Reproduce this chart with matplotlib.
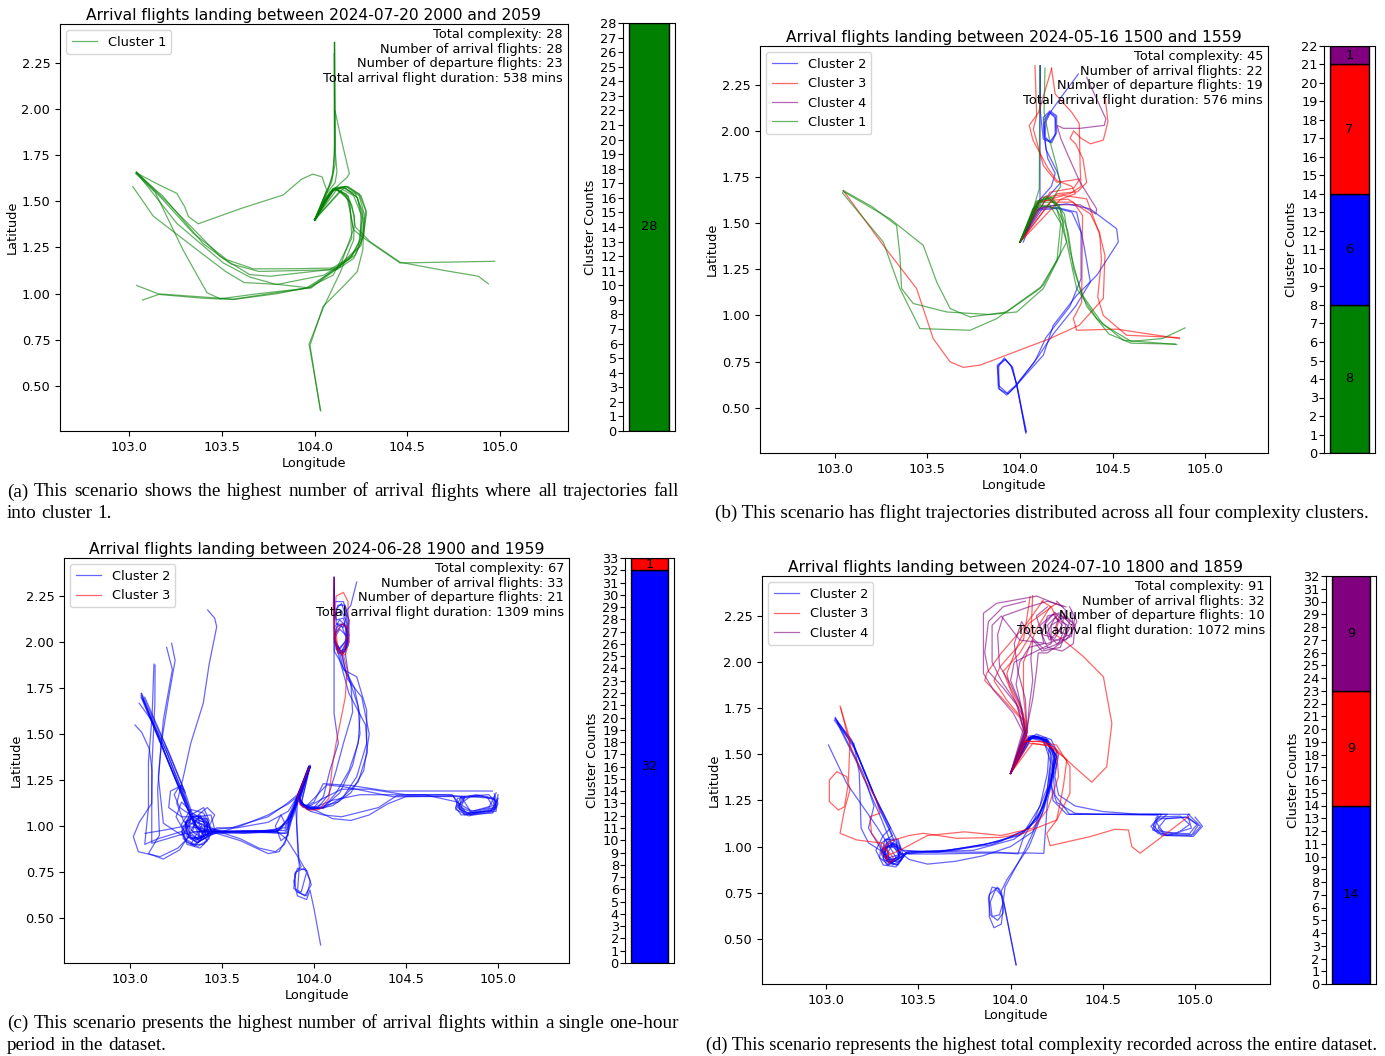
import matplotlib
matplotlib.use('Agg')
import matplotlib.pyplot as plt

# ---------------- data (lon, lat) ----------------
CLUSTER_COLORS = {1: 'green', 2: 'blue', 3: 'red', 4: 'purple'}

# (a) 2024-07-20 2000-2059
A_CLUSTER1 = [
    [(104.106, 2.36), (104.106, 1.75), (104.095, 1.63), (104.07, 1.56), (104.0, 1.40)],
    [(104.108, 2.36), (104.11, 1.70), (104.09, 1.60), (104.06, 1.54), (104.005, 1.395)],
    [(104.105, 2.30), (104.108, 1.80), (104.10, 1.66), (104.08, 1.59), (104.04, 1.50), (104.0, 1.40)],
    [(104.11, 1.99), (104.14, 1.85), (104.187, 1.65), (104.175, 1.63), (104.12, 1.58), (104.06, 1.51), (104.0, 1.40)],
    [(104.107, 2.36), (104.112, 1.76), (104.12, 1.66), (104.11, 1.60), (104.07, 1.55), (104.01, 1.41)],
    [(103.038, 1.654), (103.16, 1.59), (103.257, 1.543), (103.30, 1.47), (103.32, 1.417), (103.373, 1.378),
     (103.60, 1.46), (103.83, 1.534), (103.93, 1.62), (103.99, 1.647), (104.04, 1.632), (104.065, 1.56),
     (104.03, 1.47), (104.0, 1.40)],
    [(103.04, 1.655), (103.167, 1.525), (103.346, 1.327), (103.526, 1.184), (103.67, 1.134), (103.9, 1.135),
     (104.12, 1.139), (104.22, 1.21), (104.265, 1.32), (104.275, 1.45), (104.24, 1.54), (104.17, 1.58),
     (104.11, 1.57), (104.06, 1.52), (104.0, 1.40)],
    [(103.036, 1.65), (103.14, 1.55), (103.29, 1.238), (103.42, 1.005), (103.49, 0.972), (103.70, 1.0),
     (103.975, 1.031), (104.13, 1.15), (104.235, 1.25), (104.255, 1.40), (104.23, 1.52), (104.16, 1.575),
     (104.10, 1.56), (104.05, 1.49), (104.0, 1.40)],
    [(103.04, 1.66), (103.20, 1.50), (103.49, 1.202), (103.65, 1.103), (103.76, 1.094), (104.08, 1.13),
     (104.20, 1.20), (104.25, 1.30), (104.26, 1.44), (104.22, 1.54), (104.15, 1.575), (104.09, 1.56), (104.0, 1.40)],
    [(103.02, 1.58), (103.13, 1.42), (103.35, 1.25), (103.52, 1.12), (103.62, 1.06), (103.80, 1.05),
     (103.98, 1.03), (104.14, 1.15), (104.25, 1.26), (104.27, 1.42), (104.24, 1.53), (104.17, 1.58),
     (104.10, 1.565), (104.0, 1.40)],
    [(103.04, 1.656), (103.257, 1.381), (103.508, 1.166), (103.65, 1.09), (103.795, 1.049), (104.05, 1.10),
     (104.19, 1.19), (104.245, 1.29), (104.25, 1.43), (104.21, 1.53), (104.14, 1.57), (104.08, 1.55), (104.0, 1.40)],
    [(103.04, 1.652), (103.18, 1.53), (103.40, 1.27), (103.55, 1.16), (103.70, 1.12), (104.12, 1.13),
     (104.21, 1.19), (104.26, 1.30), (104.28, 1.44), (104.25, 1.53), (104.18, 1.58), (104.11, 1.575), (104.0, 1.40)],
    [(103.041, 1.044), (103.167, 0.995), (103.40, 0.975), (103.562, 0.968), (103.80, 1.00), (103.957, 1.031),
     (104.137, 1.146), (104.208, 1.345), (104.18, 1.525), (104.10, 1.57), (104.0, 1.40)],
    [(103.072, 0.965), (103.167, 0.998), (103.562, 0.97), (103.96, 1.03), (104.10, 1.10), (104.20, 1.30),
     (104.19, 1.50), (104.12, 1.565), (104.0, 1.40)],
    [(104.033, 0.364), (103.97, 0.726), (104.047, 0.924), (104.14, 1.12), (104.21, 1.29), (104.215, 1.42),
     (104.18, 1.53), (104.11, 1.57), (104.0, 1.40)],
    [(104.03, 0.37), (103.975, 0.72), (104.045, 0.93), (104.155, 1.04), (104.23, 1.12), (104.26, 1.24),
     (104.265, 1.40), (104.23, 1.52), (104.16, 1.575), (104.0, 1.40)],
    [(104.97, 1.175), (104.46, 1.166), (104.28, 1.29), (104.21, 1.345), (104.19, 1.45), (104.17, 1.54),
     (104.10, 1.57), (104.0, 1.40)],
    [(104.936, 1.053), (104.882, 1.094), (104.70, 1.125), (104.46, 1.17), (104.30, 1.28), (104.22, 1.36),
     (104.20, 1.48), (104.14, 1.56), (104.0, 1.40)],
]

# (b) 2024-05-16 1500-1559
B_CLUSTER1 = [
    [(103.045, 1.677), (103.20, 1.59), (103.333, 1.488), (103.351, 1.326), (103.36, 1.146), (103.423, 1.065),
     (103.604, 1.019), (103.838, 1.005), (103.982, 1.019), (104.126, 1.146), (104.216, 1.326), (104.234, 1.506),
     (104.18, 1.614), (104.09, 1.614), (104.0, 1.398)],
    [(103.045, 1.672), (103.297, 1.524), (103.477, 1.380), (103.55, 1.181), (103.622, 1.038), (103.73, 0.992),
     (103.928, 1.019), (104.108, 1.146), (104.20, 1.30), (104.22, 1.50), (104.16, 1.60), (104.07, 1.58), (104.0, 1.398)],
    [(103.04, 1.665), (103.261, 1.398), (103.351, 1.146), (103.459, 0.929), (103.73, 0.92), (103.874, 0.983),
     (104.126, 1.164), (104.252, 1.398), (104.198, 1.578), (104.10, 1.60), (104.0, 1.398)],
    [(104.108, 2.353), (104.104, 1.686), (104.06, 1.54), (104.0, 1.398)],
    [(104.135, 2.34), (104.13, 2.1), (104.16, 1.95), (104.20, 1.80), (104.22, 1.70), (104.18, 1.64),
     (104.10, 1.62), (104.0, 1.398)],
    [(104.847, 0.843), (104.558, 0.866), (104.415, 0.983), (104.306, 1.146), (104.252, 1.398), (104.216, 1.578),
     (104.144, 1.65), (104.072, 1.578), (104.0, 1.398)],
    [(104.892, 0.933), (104.77, 0.875), (104.60, 0.86), (104.45, 0.95), (104.33, 1.12), (104.27, 1.35),
     (104.24, 1.55), (104.17, 1.64), (104.09, 1.62), (104.0, 1.398)],
    [(104.84, 0.845), (104.60, 0.85), (104.48, 0.90), (104.36, 1.05), (104.29, 1.25), (104.26, 1.45),
     (104.21, 1.60), (104.13, 1.64), (104.0, 1.398)],
]
B_CLUSTER2 = [
    [(104.108, 2.353), (104.108, 1.632), (104.018, 1.398)],
    [(104.11, 2.353), (104.11, 2.10), (104.126, 1.956), (104.171, 1.935), (104.198, 1.992), (104.198, 2.082),
     (104.162, 2.109), (104.126, 2.073), (104.13, 1.96), (104.17, 1.94), (104.195, 1.99), (104.19, 2.08),
     (104.16, 2.10), (104.13, 2.06), (104.13, 1.97), (104.15, 1.85), (104.19, 1.77), (104.17, 1.70),
     (104.10, 1.62), (104.0, 1.398)],
    [(104.315, 2.308), (104.22, 2.18), (104.17, 2.11), (104.14, 2.05), (104.135, 1.97), (104.16, 1.94),
     (104.19, 1.98), (104.19, 2.07), (104.16, 2.10), (104.13, 2.04), (104.14, 1.90), (104.20, 1.78),
     (104.22, 1.72), (104.14, 1.63), (104.0, 1.398)],
    [(104.032, 0.362), (103.982, 0.623), (103.955, 0.722), (103.919, 0.764), (103.877, 0.731), (103.883, 0.605),
     (103.928, 0.569), (103.973, 0.614), (104.126, 0.785), (104.18, 0.947), (104.306, 1.109), (104.415, 1.218),
     (104.531, 1.398), (104.522, 1.47), (104.378, 1.578), (104.252, 1.605), (104.126, 1.587), (104.0, 1.398)],
    [(104.03, 0.37), (103.985, 0.62), (103.95, 0.73), (103.915, 0.77), (103.88, 0.72), (103.89, 0.60),
     (103.935, 0.575), (103.98, 0.62), (104.10, 0.78), (104.18, 0.90), (104.30, 1.05), (104.38, 1.181),
     (104.342, 1.398), (104.306, 1.56), (104.20, 1.585), (104.10, 1.58), (104.0, 1.398)],
    [(104.035, 0.37), (103.98, 0.63), (103.96, 0.72), (103.92, 0.76), (103.885, 0.73), (103.885, 0.62),
     (103.93, 0.58), (103.975, 0.62), (104.08, 0.75), (104.14, 0.88), (104.27, 1.05), (104.33, 1.20),
     (104.33, 1.45), (104.28, 1.56), (104.20, 1.58), (104.08, 1.57), (104.0, 1.398)],
]
B_CLUSTER3 = [
    [(103.045, 1.677), (103.261, 1.38), (103.441, 1.146), (103.531, 0.875), (103.622, 0.749), (103.694, 0.719),
     (103.784, 0.731), (104.162, 0.875), (104.32, 0.947), (104.45, 1.092), (104.459, 1.326), (104.432, 1.434),
     (104.36, 1.632), (104.234, 1.65), (104.10, 1.61), (104.0, 1.398)],
    [(104.861, 0.875), (104.522, 0.926), (104.306, 0.92), (104.288, 0.983), (104.333, 1.07), (104.338, 1.542),
     (104.288, 1.614), (104.162, 1.614), (104.0, 1.398)],
    [(104.86, 0.88), (104.576, 0.893), (104.45, 1.0), (104.42, 1.10), (104.44, 1.30), (104.43, 1.45),
     (104.38, 1.55), (104.26, 1.63), (104.10, 1.62), (104.0, 1.398)],
    [(104.081, 2.353), (104.09, 2.082), (104.072, 2.01), (104.126, 1.812), (104.198, 1.722), (104.27, 1.731),
     (104.324, 1.74), (104.29, 1.69), (104.162, 1.668), (104.0, 1.398)],
    [(104.171, 2.338), (104.13, 2.2), (104.10, 2.10), (104.05, 2.03), (104.07, 1.95), (104.15, 1.80),
     (104.20, 1.73), (104.28, 1.70), (104.30, 1.66), (104.22, 1.63), (104.0, 1.398)],
    [(104.46, 2.18), (104.475, 2.05), (104.45, 1.95), (104.38, 1.93), (104.33, 1.96), (104.29, 2.0),
     (104.27, 1.96), (104.30, 1.93), (104.34, 1.85), (104.36, 1.72), (104.31, 1.67), (104.20, 1.66), (104.0, 1.398)],
    [(104.17, 2.34), (104.19, 2.20), (104.28, 2.10), (104.32, 2.04), (104.325, 1.80), (104.33, 1.70),
     (104.27, 1.66), (104.12, 1.64), (104.0, 1.398)],
]
B_CLUSTER4 = [
    [(104.36, 2.29), (104.464, 2.065), (104.455, 2.03), (104.324, 2.014), (104.234, 2.014), (104.20, 2.03),
     (104.22, 1.96), (104.252, 1.884), (104.324, 1.722), (104.414, 1.578), (104.41, 1.55), (104.324, 1.60),
     (104.20, 1.60), (104.10, 1.58), (104.0, 1.398)],
]

# (c) 2024-06-28 1900-1959
C_CLUSTER2 = [
    [(103.063, 1.721), (103.20, 1.42), (103.30, 1.18), (103.362, 0.996), (103.40, 0.95), (103.43, 0.96),
     (103.41, 1.03), (103.35, 1.06), (103.30, 1.02), (103.31, 0.94), (103.37, 0.91), (103.43, 0.95),
     (103.47, 0.97), (103.60, 0.965), (103.80, 0.97), (103.87, 1.05), (103.915, 1.16), (103.978, 1.322)],
    [(103.05, 1.667), (103.12, 1.57), (103.20, 1.40), (103.30, 1.15), (103.36, 1.0), (103.41, 0.96),
     (103.38, 0.92), (103.32, 0.94), (103.30, 1.01), (103.34, 1.05), (103.40, 1.02), (103.45, 0.97),
     (103.55, 0.97), (103.78, 0.975), (103.86, 1.02), (103.905, 1.15), (103.972, 1.325)],
    [(103.06, 1.72), (103.35, 1.00), (103.39, 0.93), (103.35, 0.89), (103.29, 0.93), (103.28, 1.01),
     (103.33, 1.09), (103.40, 1.07), (103.44, 0.99), (103.50, 0.97), (103.70, 0.97), (103.84, 0.99),
     (103.90, 1.12), (103.98, 1.33)],
    [(103.027, 1.549), (103.063, 1.51), (103.105, 1.419), (103.12, 1.30), (103.118, 1.123), (103.05, 1.02),
     (103.018, 0.942), (103.045, 0.86), (103.163, 0.833), (103.26, 0.88), (103.33, 0.95), (103.30, 1.02),
     (103.34, 1.07), (103.40, 1.03), (103.41, 0.95), (103.35, 0.92), (103.45, 0.97), (103.62, 0.96),
     (103.80, 0.97), (103.88, 1.06), (103.92, 1.17), (103.975, 1.32)],
    [(103.136, 1.875), (103.135, 1.67), (103.118, 1.304), (103.118, 0.906), (103.20, 0.93), (103.30, 0.96),
     (103.33, 1.04), (103.38, 1.06), (103.41, 1.00), (103.38, 0.93), (103.32, 0.94), (103.30, 1.00),
     (103.45, 0.975), (103.65, 0.97), (103.82, 0.98), (103.89, 1.10), (103.97, 1.32)],
    [(103.199, 1.971), (103.23, 1.85), (103.181, 1.576), (103.154, 1.268), (103.181, 1.015), (103.28, 0.95),
     (103.32, 1.00), (103.38, 1.05), (103.42, 1.01), (103.39, 0.94), (103.33, 0.93), (103.47, 0.96),
     (103.60, 0.92), (103.75, 0.85), (103.81, 0.86), (103.85, 0.93), (103.88, 1.06), (103.915, 1.16),
     (103.978, 1.32)],
    [(103.226, 1.993), (103.245, 1.90), (103.21, 1.70), (103.17, 1.45), (103.15, 1.20), (103.16, 0.95),
     (103.10, 0.85), (103.18, 0.82), (103.27, 0.87), (103.32, 0.95), (103.36, 1.03), (103.42, 1.02),
     (103.42, 0.94), (103.36, 0.91), (103.31, 0.96), (103.44, 0.98), (103.55, 0.99), (103.75, 1.05),
     (103.85, 1.12), (103.91, 1.17), (103.975, 1.32)],
    [(103.422, 2.174), (103.46, 2.13), (103.471, 2.083), (103.43, 1.88), (103.398, 1.667), (103.33, 1.45),
     (103.29, 1.268), (103.254, 1.123), (103.29, 1.03), (103.35, 0.96), (103.41, 0.93), (103.44, 0.98),
     (103.40, 1.05), (103.33, 1.05), (103.32, 0.97), (103.38, 0.92), (103.46, 0.96), (103.62, 0.975),
     (103.84, 0.975), (103.90, 1.10), (103.97, 1.32)],
    [(103.082, 0.96), (103.20, 0.98), (103.30, 1.00), (103.33, 1.08), (103.28, 1.13), (103.25, 1.05),
     (103.30, 0.96), (103.38, 0.93), (103.44, 0.97), (103.42, 1.04), (103.36, 1.04), (103.34, 0.97),
     (103.50, 0.96), (103.70, 0.965), (103.85, 0.96), (103.88, 1.07), (103.92, 1.16), (103.978, 1.32)],
    [(103.13, 1.88), (103.12, 1.60), (103.10, 1.35), (103.10, 1.10), (103.08, 0.90), (103.15, 0.93),
     (103.28, 0.97), (103.31, 0.91), (103.37, 0.89), (103.43, 0.93), (103.42, 1.00), (103.36, 1.02),
     (103.48, 0.97), (103.60, 0.93), (103.70, 0.88), (103.79, 0.86), (103.84, 0.90), (103.87, 1.00),
     (103.91, 1.16), (103.975, 1.325)],
    [(103.06, 1.70), (103.25, 1.25), (103.32, 1.10), (103.28, 1.22), (103.22, 1.19), (103.21, 1.10),
     (103.28, 1.05), (103.35, 1.05), (103.44, 1.06), (103.46, 0.98), (103.40, 0.90), (103.33, 0.90),
     (103.37, 0.97), (103.50, 0.97), (103.60, 1.00), (103.75, 1.06), (103.86, 1.12), (103.91, 1.16),
     (103.98, 1.32)],
    [(103.08, 1.70), (103.22, 1.38), (103.30, 1.18), (103.27, 1.22), (103.24, 1.17), (103.27, 1.10),
     (103.33, 1.06), (103.40, 1.10), (103.43, 1.03), (103.40, 0.93), (103.35, 0.90), (103.30, 0.93),
     (103.29, 1.00), (103.33, 1.04), (103.39, 1.01), (103.37, 0.94), (103.44, 0.96), (103.47, 0.99),
     (103.58, 0.99), (103.75, 1.02), (103.86, 1.08), (103.91, 1.16), (103.975, 1.32)],
    [(103.06, 1.71), (103.30, 1.12), (103.36, 0.99), (103.43, 1.00), (103.46, 1.06), (103.42, 1.10),
     (103.37, 1.06), (103.38, 0.98), (103.42, 0.92), (103.38, 0.88), (103.31, 0.90), (103.28, 0.97),
     (103.32, 1.02), (103.39, 0.99), (103.43, 0.96), (103.52, 0.97), (103.70, 0.97), (103.84, 0.96),
     (103.89, 1.06), (103.92, 1.16), (103.978, 1.322)],
    [(103.07, 1.69), (103.33, 1.05), (103.38, 0.97), (103.47, 0.97), (103.65, 0.97), (103.80, 0.97),
     (103.84, 1.02), (103.82, 1.06), (103.79, 1.00), (103.82, 0.92), (103.86, 0.95), (103.86, 1.05),
     (103.90, 1.14), (103.972, 1.325)],
    [(104.109, 2.355), (104.109, 1.612), (104.132, 1.449), (104.087, 1.304), (104.051, 1.159), (103.996, 1.096),
     (103.933, 1.114), (103.915, 1.16), (103.978, 1.322)],
    [(104.232, 2.326), (104.20, 2.20), (104.17, 2.16), (104.19, 2.12), (104.19, 2.00), (104.16, 1.94),
     (104.12, 1.96), (104.11, 2.08), (104.14, 2.12), (104.18, 2.08), (104.185, 1.98), (104.15, 1.93),
     (104.13, 1.98), (104.16, 1.85), (104.232, 1.811), (104.286, 1.63), (104.286, 1.449), (104.232, 1.268),
     (104.16, 1.159), (104.051, 1.096), (103.96, 1.096), (103.92, 1.15), (103.978, 1.322)],
    [(104.109, 2.35), (104.109, 2.20), (104.12, 2.12), (104.16, 2.13), (104.18, 2.05), (104.17, 1.96),
     (104.13, 1.95), (104.11, 2.02), (104.13, 2.10), (104.17, 2.09), (104.18, 1.98), (104.15, 1.93),
     (104.17, 1.85), (104.22, 1.75), (104.25, 1.60), (104.24, 1.45), (104.19, 1.30), (104.12, 1.18),
     (104.05, 1.10), (103.97, 1.09), (103.92, 1.14), (103.975, 1.32)],
    [(104.11, 2.35), (104.11, 2.15), (104.15, 2.17), (104.18, 2.10), (104.17, 2.00), (104.13, 1.96),
     (104.11, 2.04), (104.15, 2.09), (104.18, 2.01), (104.15, 1.95), (104.18, 1.80), (104.26, 1.70),
     (104.30, 1.50), (104.27, 1.30), (104.20, 1.18), (104.10, 1.11), (104.0, 1.09), (103.93, 1.12),
     (103.975, 1.32)],
    [(104.11, 2.30), (104.11, 1.95), (104.14, 1.90), (104.20, 1.78), (104.21, 1.62), (104.16, 1.45),
     (104.12, 1.30), (104.08, 1.17), (104.02, 1.10), (103.95, 1.10), (103.915, 1.16), (103.978, 1.322)],
    [(104.12, 2.22), (104.16, 2.22), (104.18, 2.15), (104.16, 2.08), (104.12, 2.10), (104.12, 2.18),
     (104.15, 2.21), (104.18, 2.12), (104.18, 2.00), (104.15, 1.94), (104.12, 2.0), (104.14, 1.90),
     (104.19, 1.72), (104.28, 1.55), (104.29, 1.40), (104.24, 1.24), (104.13, 1.13), (104.02, 1.10),
     (103.93, 1.12), (103.978, 1.32)],
    [(104.11, 2.34), (104.11, 2.12), (104.13, 2.20), (104.17, 2.20), (104.19, 2.12), (104.18, 2.02),
     (104.14, 1.96), (104.11, 2.00), (104.12, 2.08), (104.16, 2.10), (104.19, 2.04), (104.17, 1.95),
     (104.13, 1.94), (104.11, 2.02), (104.14, 2.07), (104.18, 2.03), (104.17, 1.94), (104.19, 1.80),
     (104.24, 1.65), (104.25, 1.50), (104.21, 1.33), (104.14, 1.18), (104.05, 1.10), (103.96, 1.09),
     (103.915, 1.16), (103.978, 1.322)],
    [(104.98, 1.175), (105.0, 1.12), (104.97, 1.07), (104.80, 1.06), (104.77, 1.10), (104.80, 1.16),
     (104.95, 1.17), (104.99, 1.13), (104.96, 1.08), (104.82, 1.07), (104.78, 1.12), (104.757, 1.163),
     (104.431, 1.159), (104.16, 1.214), (104.069, 1.223), (104.00, 1.15), (103.95, 1.10), (103.915, 1.16),
     (103.978, 1.322)],
    [(105.0, 1.15), (104.98, 1.09), (104.85, 1.06), (104.79, 1.09), (104.80, 1.15), (104.90, 1.165),
     (104.99, 1.14), (104.97, 1.08), (104.83, 1.07), (104.78, 1.13), (104.60, 1.17), (104.40, 1.17),
     (104.25, 1.17), (104.10, 1.14), (104.0, 1.10), (103.93, 1.11), (103.915, 1.16), (103.978, 1.322)],
    [(104.99, 1.18), (104.95, 1.10), (104.82, 1.06), (104.78, 1.11), (104.85, 1.16), (104.97, 1.15),
     (104.98, 1.10), (104.85, 1.08), (104.80, 1.16), (104.50, 1.16), (104.40, 1.12), (104.30, 1.06),
     (104.20, 1.03), (104.10, 1.04), (104.02, 1.08), (103.94, 1.11), (103.91, 1.16), (103.975, 1.32)],
    [(104.97, 1.19), (104.80, 1.19), (104.60, 1.19), (104.40, 1.19), (104.20, 1.22), (104.05, 1.23),
     (104.0, 1.13), (103.94, 1.10), (103.915, 1.16), (103.978, 1.322)],
    [(104.98, 1.16), (104.99, 1.10), (104.85, 1.065), (104.78, 1.10), (104.82, 1.16), (104.70, 1.17),
     (104.45, 1.165), (104.35, 1.10), (104.15, 1.05), (104.05, 1.06), (103.98, 1.08), (103.92, 1.13),
     (103.978, 1.322)],
    [(105.0, 1.17), (104.99, 1.08), (104.84, 1.055), (104.77, 1.09), (104.78, 1.15), (104.88, 1.17),
     (104.98, 1.15), (104.99, 1.09), (104.87, 1.07), (104.80, 1.10), (104.82, 1.16), (104.94, 1.16),
     (104.97, 1.11), (104.86, 1.08), (104.79, 1.12), (104.75, 1.17), (104.50, 1.17), (104.30, 1.20),
     (104.15, 1.20), (104.05, 1.15), (103.96, 1.10), (103.92, 1.14), (103.978, 1.322)],
    [(104.036, 0.353), (104.0, 0.55), (103.978, 0.652), (103.96, 0.60), (103.91, 0.62), (103.89, 0.70),
     (103.91, 0.77), (103.96, 0.76), (103.985, 0.68), (103.95, 0.62), (103.90, 0.65), (103.895, 0.74),
     (103.93, 0.78), (103.915, 0.815), (103.905, 1.015), (103.91, 1.14), (103.978, 1.322)],
    [(103.07, 1.69), (103.20, 1.40), (103.33, 1.06), (103.37, 0.98), (103.45, 0.97), (103.62, 0.97),
     (103.80, 0.97), (103.85, 0.93), (103.92, 0.82), (103.96, 0.75), (103.93, 0.64), (103.89, 0.66),
     (103.90, 0.75), (103.95, 0.77), (103.98, 0.70), (103.96, 0.62), (103.91, 0.64), (103.92, 0.78),
     (103.91, 0.95), (103.90, 1.10), (103.972, 1.32)],
]
C_CLUSTER3 = [
    [(104.11, 2.35), (104.105, 2.20), (104.11, 2.02), (104.13, 1.94), (104.17, 1.93), (104.19, 2.00),
     (104.18, 2.08), (104.15, 2.10), (104.12, 2.05), (104.13, 1.96), (104.16, 1.94), (104.185, 2.05),
     (104.185, 2.22), (104.16, 2.27), (104.12, 2.25), (104.11, 2.10), (104.12, 1.98), (104.16, 1.93),
     (104.18, 1.85), (104.17, 1.70), (104.12, 1.45), (104.10, 1.33), (104.08, 1.15), (104.03, 1.09),
     (103.97, 1.085), (103.92, 1.12), (103.91, 1.16), (103.975, 1.32)],
]

# (d) 2024-07-10 1800-1859
D_CLUSTER2 = [
    [(103.049, 1.696), (103.139, 1.578), (103.256, 1.289), (103.401, 1.0), (103.39, 0.93), (103.33, 0.90),
     (103.30, 0.96), (103.32, 1.04), (103.38, 1.03), (103.40, 0.96), (103.35, 0.91), (103.31, 0.95),
     (103.34, 1.02), (103.42, 0.98), (103.50, 0.975), (103.618, 0.973), (103.889, 1.018), (104.069, 1.072),
     (104.16, 1.18), (104.21, 1.33), (104.25, 1.487), (104.196, 1.578), (104.124, 1.596), (104.07, 1.56),
     (104.0, 1.397)],
    [(103.05, 1.69), (103.14, 1.57), (103.26, 1.28), (103.36, 1.06), (103.30, 1.02), (103.29, 0.94),
     (103.34, 0.90), (103.40, 0.94), (103.38, 1.01), (103.32, 1.00), (103.33, 0.93), (103.39, 0.93),
     (103.44, 0.975), (103.60, 0.97), (103.85, 1.01), (104.05, 1.06), (104.15, 1.16), (104.22, 1.35),
     (104.24, 1.50), (104.19, 1.58), (104.12, 1.59), (104.06, 1.55), (104.0, 1.397)],
    [(103.045, 1.685), (103.15, 1.55), (103.27, 1.26), (103.35, 1.10), (103.31, 1.06), (103.27, 0.98),
     (103.31, 0.90), (103.38, 0.89), (103.42, 0.95), (103.39, 1.04), (103.33, 1.04), (103.32, 0.96),
     (103.37, 0.92), (103.45, 0.97), (103.70, 0.98), (103.95, 1.03), (104.10, 1.10), (104.18, 1.22),
     (104.23, 1.42), (104.21, 1.55), (104.14, 1.60), (104.08, 1.57), (104.0, 1.397)],
    [(103.013, 1.551), (103.112, 1.343), (103.275, 1.108), (103.35, 0.99), (103.38, 0.94), (103.34, 0.91),
     (103.30, 0.97), (103.36, 1.02), (103.40, 0.97), (103.45, 0.93), (103.55, 0.905), (103.70, 0.92),
     (103.85, 0.95), (104.0, 1.0), (104.12, 1.08), (104.19, 1.25), (104.22, 1.45), (104.18, 1.57),
     (104.10, 1.59), (104.0, 1.397)],
    [(103.06, 1.68), (103.20, 1.40), (103.26, 1.22), (103.23, 1.10), (103.29, 1.00), (103.34, 0.93),
     (103.40, 0.94), (103.37, 1.00), (103.31, 0.99), (103.33, 0.92), (103.39, 0.90), (103.43, 0.96),
     (103.55, 0.97), (103.80, 0.98), (104.02, 1.04), (104.14, 1.14), (104.21, 1.30), (104.24, 1.48),
     (104.20, 1.57), (104.13, 1.60), (104.07, 1.57), (104.0, 1.397)],
    [(103.15, 1.56), (103.18, 1.40), (103.19, 1.10), (103.23, 1.02), (103.31, 0.97), (103.35, 0.92),
     (103.40, 0.95), (103.38, 1.02), (103.33, 1.00), (103.34, 0.94), (103.41, 0.96), (103.50, 0.97),
     (103.75, 0.97), (103.93, 0.97), (104.04, 0.96), (104.07, 1.05), (104.13, 1.15), (104.20, 1.32),
     (104.22, 1.50), (104.17, 1.58), (104.10, 1.59), (104.0, 1.397)],
    [(104.964, 1.175), (105.02, 1.12), (104.98, 1.06), (104.80, 1.07), (104.76, 1.11), (104.80, 1.15),
     (104.95, 1.16), (105.03, 1.11), (104.99, 1.065), (104.82, 1.06), (104.77, 1.12), (104.82, 1.175),
     (104.60, 1.175), (104.305, 1.175), (104.23, 1.25), (104.22, 1.36), (104.25, 1.49), (104.20, 1.58),
     (104.12, 1.60), (104.07, 1.56), (104.0, 1.397)],
    [(104.96, 1.17), (104.98, 1.10), (104.85, 1.06), (104.77, 1.09), (104.79, 1.16), (104.92, 1.165),
     (104.97, 1.12), (104.90, 1.07), (104.78, 1.09), (104.80, 1.17), (104.50, 1.175), (104.35, 1.18),
     (104.25, 1.24), (104.21, 1.36), (104.24, 1.50), (104.19, 1.58), (104.11, 1.60), (104.0, 1.397)],
    [(104.97, 1.175), (104.70, 1.175), (104.50, 1.19), (104.35, 1.22), (104.26, 1.28), (104.24, 1.38),
     (104.26, 1.50), (104.22, 1.58), (104.14, 1.61), (104.08, 1.57), (104.0, 1.397)],
    [(104.03, 0.358), (103.961, 0.711), (103.94, 0.77), (103.90, 0.78), (103.88, 0.72), (103.89, 0.63),
     (103.93, 0.60), (103.96, 0.64), (103.955, 0.73), (103.92, 0.77), (103.89, 0.70), (103.90, 0.62),
     (103.94, 0.63), (103.96, 0.70), (103.97, 0.78), (104.069, 0.964), (104.17, 1.18), (104.22, 1.35),
     (104.25, 1.49), (104.19, 1.58), (104.12, 1.60), (104.0, 1.397)],
    [(104.03, 0.36), (103.96, 0.71), (103.93, 0.78), (103.885, 0.74), (103.885, 0.62), (103.91, 0.56),
     (103.95, 0.58), (103.96, 0.67), (103.95, 0.76), (103.98, 0.82), (104.10, 1.0), (104.18, 1.20),
     (104.23, 1.40), (104.23, 1.52), (104.17, 1.59), (104.10, 1.59), (104.0, 1.397)],
    [(103.06, 1.67), (103.17, 1.45), (103.30, 1.15), (103.36, 1.0), (103.42, 0.95), (103.38, 0.90),
     (103.31, 0.93), (103.32, 1.00), (103.38, 1.00), (103.45, 0.96), (103.60, 0.96), (103.90, 0.965),
     (104.10, 0.965), (104.18, 0.963), (104.19, 1.10), (104.20, 1.25), (104.25, 1.45), (104.20, 1.57),
     (104.12, 1.60), (104.0, 1.397)],
    [(103.05, 1.70), (103.16, 1.52), (103.30, 1.18), (103.37, 1.03), (103.33, 0.96), (103.36, 0.90),
     (103.41, 0.93), (103.40, 1.0), (103.34, 1.03), (103.30, 0.98), (103.34, 0.92), (103.40, 0.92),
     (103.44, 0.97), (103.65, 0.98), (103.90, 1.01), (104.08, 1.09), (104.16, 1.22), (104.20, 1.40),
     (104.21, 1.55), (104.15, 1.60), (104.08, 1.57), (104.0, 1.397)],
    [(105.0, 1.16), (105.04, 1.11), (104.99, 1.055), (104.84, 1.06), (104.80, 1.10), (104.84, 1.15),
     (104.96, 1.16), (105.01, 1.12), (104.97, 1.07), (104.83, 1.075), (104.79, 1.13), (104.85, 1.175),
     (104.60, 1.175), (104.32, 1.175), (104.24, 1.28), (104.23, 1.42), (104.25, 1.52), (104.19, 1.59),
     (104.10, 1.60), (104.0, 1.397)],
]
D_CLUSTER3 = [
    [(103.076, 1.762), (103.13, 1.58), (103.121, 1.343), (103.10, 1.216), (103.067, 1.198), (103.018, 1.244),
     (103.018, 1.361), (103.058, 1.406), (103.112, 1.379), (103.13, 1.307), (103.10, 1.20), (103.076, 1.072),
     (103.166, 1.036), (103.311, 1.018), (103.34, 0.96), (103.33, 0.93), (103.30, 0.97), (103.35, 1.03),
     (103.45, 1.06), (103.527, 1.072), (103.708, 1.045), (103.95, 1.05), (104.069, 1.072), (104.25, 1.144),
     (104.322, 1.289), (104.322, 1.433), (104.25, 1.55), (104.15, 1.57), (104.07, 1.57), (104.0, 1.397)],
    [(103.08, 1.75), (103.13, 1.55), (103.20, 1.38), (103.27, 1.26), (103.293, 1.181), (103.238, 1.162),
     (103.247, 1.072), (103.30, 1.0), (103.347, 0.964), (103.37, 0.93), (103.34, 0.91), (103.33, 0.95),
     (103.40, 0.98), (103.55, 1.06), (103.75, 1.08), (103.95, 1.06), (104.12, 1.10), (104.20, 1.20),
     (104.26, 1.38), (104.25, 1.52), (104.17, 1.57), (104.07, 1.57), (104.0, 1.397)],
    [(104.17, 2.33), (104.22, 2.30), (104.26, 2.22), (104.24, 2.15), (104.286, 2.12), (104.395, 2.03),
     (104.503, 1.921), (104.549, 1.668), (104.521, 1.433), (104.44, 1.349), (104.36, 1.42), (104.286, 1.487),
     (104.20, 1.55), (104.10, 1.56), (104.0, 1.397)],
    [(104.964, 1.162), (104.702, 0.964), (104.657, 1.0), (104.639, 1.09), (104.566, 1.094), (104.431, 1.054),
     (104.214, 1.005), (104.196, 1.072), (104.25, 1.144), (104.286, 1.325), (104.305, 1.47), (104.232, 1.542),
     (104.12, 1.56), (104.0, 1.397)],
    [(104.106, 2.355), (104.07, 2.12), (103.943, 1.975), (103.91, 1.90), (103.979, 1.795), (104.069, 1.686),
     (104.088, 1.596), (104.05, 1.50), (104.0, 1.397)],
    [(104.178, 2.337), (104.08, 2.20), (103.95, 2.05), (103.871, 1.94), (103.86, 1.90), (103.93, 1.83),
     (104.05, 1.70), (104.08, 1.60), (104.0, 1.397)],
    [(104.25, 2.32), (104.10, 2.21), (104.05, 2.12), (103.98, 1.94), (103.995, 1.87), (104.07, 1.72),
     (104.085, 1.60), (104.0, 1.397)],
    [(104.215, 2.30), (104.14, 2.18), (104.07, 2.0), (104.07, 1.82), (104.09, 1.62), (104.0, 1.397)],
    [(104.12, 2.36), (104.11, 2.15), (104.05, 2.05), (103.96, 1.95), (104.02, 1.80), (104.08, 1.68),
     (104.09, 1.58), (104.0, 1.397)],
]
D_CLUSTER4 = [
    [(104.286, 2.30), (104.142, 2.358), (103.925, 2.319), (103.853, 2.265), (103.853, 1.939), (103.907, 1.849),
     (104.015, 1.723), (104.07, 1.614), (104.0, 1.397)],
    [(104.33, 2.28), (104.34, 2.18), (104.30, 2.12), (104.22, 2.12), (104.20, 2.20), (104.26, 2.26),
     (104.32, 2.22), (104.30, 2.14), (104.20, 2.10), (104.05, 2.12), (103.95, 2.25), (103.90, 2.20),
     (103.90, 2.0), (103.95, 1.90), (104.03, 1.78), (104.075, 1.62), (104.0, 1.397)],
    [(104.30, 2.30), (104.20, 2.33), (104.10, 2.30), (103.96, 2.25), (103.93, 2.15), (103.94, 1.98),
     (104.00, 1.88), (104.06, 1.75), (104.08, 1.60), (104.0, 1.397)],
    [(104.33, 2.22), (104.28, 2.27), (104.20, 2.25), (104.17, 2.15), (104.20, 2.08), (104.28, 2.06),
     (104.34, 2.10), (104.35, 2.20), (104.30, 2.25), (104.22, 2.20), (104.22, 2.10), (104.12, 2.05),
     (104.02, 2.0), (104.00, 1.90), (104.05, 1.78), (104.08, 1.62), (104.0, 1.397)],
    [(104.25, 2.33), (104.30, 2.28), (104.27, 2.18), (104.21, 2.12), (104.18, 2.20), (104.24, 2.27),
     (104.30, 2.20), (104.26, 2.10), (104.18, 2.07), (104.10, 2.15), (104.06, 2.22), (104.02, 2.10),
     (104.04, 1.95), (104.08, 1.80), (104.09, 1.62), (104.0, 1.397)],
    [(104.35, 2.25), (104.33, 2.14), (104.25, 2.10), (104.20, 2.16), (104.24, 2.24), (104.31, 2.20),
     (104.27, 2.08), (104.17, 2.06), (104.12, 2.12), (104.11, 2.02), (104.12, 1.90), (104.10, 1.75),
     (104.09, 1.62), (104.0, 1.397)],
    [(104.08, 2.33), (103.96, 2.30), (103.88, 2.22), (103.86, 2.05), (103.88, 1.95), (103.96, 1.86),
     (104.04, 1.76), (104.07, 1.64), (104.0, 1.397)],
    [(104.20, 2.30), (104.14, 2.25), (104.17, 2.15), (104.24, 2.13), (104.28, 2.20), (104.23, 2.26),
     (104.16, 2.20), (104.18, 2.10), (104.10, 2.08), (104.05, 2.00), (104.03, 1.88), (104.06, 1.75),
     (104.08, 1.63), (104.0, 1.397)],
    [(104.32, 2.30), (104.36, 2.22), (104.32, 2.14), (104.24, 2.18), (104.27, 2.26), (104.33, 2.20),
     (104.28, 2.11), (104.20, 2.05), (104.15, 2.05), (104.14, 1.95), (104.12, 1.80), (104.09, 1.65),
     (104.0, 1.397)],
]

# cluster counts (cluster 1..4) for the stacked bars
A_COUNTS = [28, 0, 0, 0]
B_COUNTS = [8, 6, 7, 1]
C_COUNTS = [0, 32, 1, 0]
D_COUNTS = [0, 14, 9, 9]

# summary numbers: total complexity, arrivals, departures, arrival minutes
A_STATS = [28, 28, 23, 538]
B_STATS = [45, 22, 19, 576]
C_STATS = [67, 33, 21, 1309]
D_STATS = [91, 32, 10, 1072]

A_TITLE = 'Arrival flights landing between 2024-07-20 2000 and 2059'
B_TITLE = 'Arrival flights landing between 2024-05-16 1500 and 1559'
C_TITLE = 'Arrival flights landing between 2024-06-28 1900 and 1959'
D_TITLE = 'Arrival flights landing between 2024-07-10 1800 and 1859'

A_CAPTION = ['(a) This scenario shows the highest number of arrival flights where all trajectories fall',
             'into cluster 1.']
B_CAPTION = ['(b) This scenario has flight trajectories distributed across all four complexity clusters.']
C_CAPTION = ['(c) This scenario presents the highest number of arrival flights within a single one-hour',
             'period in the dataset.']
D_CAPTION = ['(d) This scenario represents the highest total complexity recorded across the entire dataset.']

# ---------------- layout ----------------
W, H = 1385, 1056
SMALL = 9.3
SERIF = 'Liberation Serif'


def rect(x0, y0, x1, y1):
    return [x0 / W, 1 - y1 / H, (x1 - x0) / W, (y1 - y0) / H]


def draw_traj(ax, groups, title, stats, xlim, ylim):
    for cl, flights in groups:
        for i, f in enumerate(flights):
            lon, lat = zip(*f)
            ax.plot(lon, lat, color=CLUSTER_COLORS[cl], lw=0.9, alpha=0.6,
                    label='Cluster {}'.format(cl) if i == 0 else None)
    ax.set_xlim(*xlim)
    ax.set_ylim(*ylim)
    ax.set_xticks([103.0, 103.5, 104.0, 104.5, 105.0])
    ax.set_xticklabels(['103.0', '103.5', '104.0', '104.5', '105.0'])
    yt = [0.5, 0.75, 1.0, 1.25, 1.5, 1.75, 2.0, 2.25]
    ax.set_yticks(yt)
    ax.set_yticklabels(['{:.2f}'.format(v) for v in yt])
    ax.tick_params(labelsize=SMALL)
    ax.set_xlabel('Longitude', fontsize=SMALL, labelpad=2)
    ax.set_ylabel('Latitude', fontsize=SMALL, labelpad=2)
    ax.set_title(title, fontsize=11.2, pad=3)
    ax.legend(loc='upper left', fontsize=SMALL)
    txt = ('Total complexity: {}\nNumber of arrival flights: {}\n'
           'Number of departure flights: {}\nTotal arrival flight duration: {} mins').format(*stats)
    ax.text(0.99, 0.99, txt, transform=ax.transAxes, ha='right', va='top',
            fontsize=SMALL, linespacing=1.15)


def draw_bar(ax, counts):
    bottom = 0
    for cl, n in zip([1, 2, 3, 4], counts):
        if n == 0:
            continue
        ax.bar(0, n, bottom=bottom, width=0.8, color=CLUSTER_COLORS[cl], edgecolor='black')
        ax.text(0, bottom + n / 2, str(n), ha='center', va='center', fontsize=SMALL)
        bottom += n
    ax.set_xlim(-0.52, 0.52)
    ax.set_ylim(0, bottom)
    ax.set_xticks([])
    ax.set_yticks(range(bottom + 1))
    ax.tick_params(labelsize=SMALL, pad=1)
    ax.set_ylabel('Cluster Counts', fontsize=SMALL, labelpad=2)


def place_caption(fig, lines, x0, x1, y0, dy, size=13.8, center=None):
    renderer = fig.canvas.get_renderer()
    for k, line in enumerate(lines):
        y = 1 - (y0 + k * dy) / H
        if center is not None:
            fig.text(center / W, y, line, ha='center', va='center', fontsize=size, family=SERIF)
            continue
        words = line.split()
        items = [fig.text(0, y, w, va='center', fontsize=size, family=SERIF) for w in words]
        widths = [t.get_window_extent(renderer).width for t in items]
        if k < len(lines) - 1:
            gap = (x1 - x0 - sum(widths)) / (len(words) - 1)
        else:
            sp = fig.text(0, 0, ' ', fontsize=size, family=SERIF)
            gap = sp.get_window_extent(renderer).width
            sp.remove()
        x = x0
        for t, w in zip(items, widths):
            t.set_position((x / W, y))
            x += w + gap


fig = plt.figure(figsize=(W / 100, H / 100), dpi=100)

ax_a = fig.add_axes(rect(60, 24, 568, 431))
draw_traj(ax_a, [(1, A_CLUSTER1)], A_TITLE, A_STATS, (102.628, 105.365), (0.256, 2.46))
draw_bar(fig.add_axes(rect(623, 23, 675, 431)), A_COUNTS)

ax_b = fig.add_axes(rect(760, 46, 1268, 453))
draw_traj(ax_b, [(2, B_CLUSTER2), (3, B_CLUSTER3), (4, B_CLUSTER4), (1, B_CLUSTER1)],
          B_TITLE, B_STATS, (102.595, 105.34), (0.255, 2.46))
draw_bar(fig.add_axes(rect(1324, 46, 1375, 453)), B_COUNTS)

ax_c = fig.add_axes(rect(64, 558, 569, 963))
draw_traj(ax_c, [(2, C_CLUSTER2), (3, C_CLUSTER3)], C_TITLE, C_STATS, (102.641, 105.386), (0.255, 2.457))
draw_bar(fig.add_axes(rect(625, 558, 674, 963)), C_COUNTS)

ax_d = fig.add_axes(rect(762, 576, 1270, 984))
draw_traj(ax_d, [(2, D_CLUSTER2), (3, D_CLUSTER3), (4, D_CLUSTER4)], D_TITLE, D_STATS,
          (102.653, 105.406), (0.255, 2.467))
draw_bar(fig.add_axes(rect(1326, 576, 1376, 984)), D_COUNTS)

place_caption(fig, A_CAPTION, 7, 679, 492, 21.5)
place_caption(fig, B_CAPTION, 715, 1370, 513, 21.5, center=1042)
place_caption(fig, C_CAPTION, 7, 679, 1023, 22)
place_caption(fig, D_CAPTION, 707, 1378, 1045, 21.5, size=13.35, center=1042)

fig.savefig('out.png', dpi=100)
